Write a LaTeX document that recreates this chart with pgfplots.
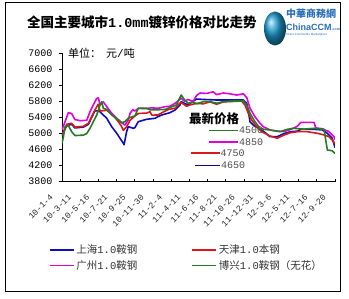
\documentclass[border=0pt]{standalone}
\usepackage{fontspec}
\setmainfont{Liberation Sans}
\newfontfamily\cjk{Noto Sans CJK SC}
\newfontfamily\mono{Liberation Mono}
\usepackage{pgfplots}
\pgfplotsset{compat=1.18}
\definecolor{sblue}{RGB}{15,15,185}
\definecolor{sred}{RGB}{215,25,25}
\definecolor{smag}{RGB}{225,0,225}
\definecolor{sgreen}{RGB}{35,125,35}
\definecolor{logoblue}{RGB}{40,110,185}
\begin{document}
\begin{tikzpicture}
\useasboundingbox (0pt,0pt) rectangle (349pt,299pt);
\draw[black,line width=0.6pt] (5.7pt,7.3pt) rectangle (340.7pt,296.3pt);
% title
\node[anchor=west,inner sep=0] at (27pt,277pt) {\fontsize{13.5}{15}\selectfont\cjk\bfseries 全国主要城市{\mono\bfseries 1.0mm}镀锌价格对比走势};
% logo
\shade[ball color=logoblue!70!cyan] (275pt,270.5pt) ellipse (11pt and 17pt);
\node[anchor=west,inner sep=0,text=logoblue] at (286pt,285pt) {\fontsize{10}{12}\selectfont\cjk\bfseries 中華商務網};
\node[anchor=west,inner sep=0,text=logoblue] at (286pt,272pt) {\fontsize{9}{10}\selectfont\bfseries ChinaCCM\fontsize{3.5}{4}\selectfont.com};
\node[anchor=west,inner sep=0,text=logoblue] at (286pt,264pt) {\fontsize{3}{4}\selectfont China Commodity Marketplace};
% unit
\node[anchor=west,inner sep=0] at (68pt,246pt) {\fontsize{11}{12}\selectfont\cjk 单位：\hspace{5pt}元{\mono /}吨};
\begin{axis}[
  at={(62pt,117.3pt)}, anchor=south west,
  scale only axis, width=273pt, height=128.4pt,
  xmin=0, xmax=15, ymin=3800, ymax=7000,
  axis x line*=bottom, axis y line*=left,
  axis line style={black,line width=0.6pt,-},
  xtick={0,...,15},
  xticklabels={10-1-4,10-3-11,10-5-16,10-7-21,10-9-25,10-11-30,11-2-4,11-4-11,11-6-16,11-8-21,11-10-26,11-12-31,12-3-6,12-5-11,12-7-16,12-9-20},
  ytick={3800,4200,...,7000},
  xtick align=inside, ytick align=outside,
  major tick length=3pt,
  tick style={black,line width=0.6pt},
  /pgf/number format/1000 sep={},
  /pgf/number format/assume math mode=true,
  yticklabel style={font=\fontsize{10}{12}\selectfont\mono, xshift=-3pt},
  xticklabel style={font=\fontsize{8.5}{10}\selectfont\mono, text=black!85, xshift=-8pt, yshift=-12pt, rotate=45, anchor=east},
  every axis plot/.append style={line width=1.6pt, line join=round},
  legend columns=2,
  legend cell align=left,
  legend image code/.code={\draw[#1] (0pt,0pt) -- (24pt,0pt);},
  legend style={at={(axis description cs:-0.06,-0.46)}, anchor=north west, draw=none, fill=none,
    font=\fontsize{10.5}{12}\selectfont\cjk, text=black!80, row sep=1pt,
    /tikz/every even column/.append style={column sep=52pt}},
]
\addplot[sblue] coordinates {
(0,4940) (0.26,5200) (0.53,5230) (0.71,5140) (1.17,5160) (1.45,5230) (1.63,5400) (1.81,5570) (1.99,5560) (2.09,5545) (2.27,5462) (2.46,5380) (2.73,5171) (3.01,5006) (3.19,4880) (3.37,4757) (3.41,4720) (3.55,5046) (3.64,5171) (3.92,5130) (4.01,5150) (4.19,5296) (4.65,5355) (5.11,5380) (5.27,5420) (5.48,5462) (5.93,5520) (6.21,5587) (6.48,5710) (6.55,5795) (6.92,5712) (7.03,5754) (7.4,5860) (7.76,5850) (8.5,5836) (9.96,5836) (10.15,5754) (10.24,5545) (10.33,5296) (10.51,5212) (10.79,5140) (11.1,5046) (11.43,4922) (11.83,4922) (12.2,5000) (12.57,5046) (12.93,5060) (13.12,5105) (13.85,5105) (14.3,5090) (14.58,5006) (14.85,4882) (15,4650)
};
\addlegendentry{上海{\mono 1.0}鞍钢}
\addplot[sred] coordinates {
(0,4964) (0.26,5230) (0.53,5256) (0.71,5160) (1.17,5180) (1.45,5256) (1.63,5420) (1.81,5587) (1.99,5730) (2.09,5560) (2.46,5580) (2.82,5450) (3.09,5300) (3.28,5170) (3.37,5080) (3.55,5170) (3.74,5330) (4.01,5440) (4.2,5500) (4.65,5510) (4.84,5545) (4.93,5460) (5.27,5462) (5.5,5520) (5.84,5600) (6.21,5630) (6.48,5760) (6.55,5770) (6.85,5680) (7.03,5712) (7.4,5754) (7.76,5740) (8.13,5790) (8.5,5730) (8.86,5790) (9.41,5800) (9.87,5810) (10.05,5712) (10.24,5505) (10.42,5338) (10.7,5171) (10.97,5046) (11.43,4940) (11.83,4882) (12.2,4964) (12.57,5023) (12.93,5046) (13.48,5046) (14.03,5006) (14.4,4964) (14.67,4922) (14.85,4840) (15,4750)
};
\addlegendentry{天津{\mono 1.0}本钢}
\addplot[smag] coordinates {
(0,5090) (0.17,5300) (0.35,5520) (0.53,5500) (0.71,5350) (1.0,5320) (1.36,5330) (1.54,5545) (1.72,5712) (1.9,5870) (2.0,5890) (2.09,5712) (2.27,5790) (2.46,5670) (2.73,5505) (3.01,5380) (3.28,5270) (3.46,5213) (3.64,5337) (3.74,5505) (3.9,5600) (4.0,5560) (4.2,5630) (4.6,5620) (4.9,5640) (5.3,5630) (5.66,5670) (5.93,5680) (6.21,5753) (6.55,5880) (6.74,5800) (6.92,5850) (7.2,5800) (7.4,5950) (7.58,6010) (7.95,6000) (8.3,6040) (8.5,5970) (8.86,6010) (9.23,5990) (9.6,5960) (9.96,5990) (10.15,5900) (10.33,5630) (10.6,5420) (10.88,5255) (11.06,5171) (11.43,5089) (11.83,5060) (12.2,5050) (12.57,5105) (12.93,5180) (13.12,5280) (13.85,5280) (13.94,5140) (14.3,5120) (14.67,5046) (14.95,4920) (15,4850)
};
\addlegendentry{广州{\mono 1.0}鞍钢}
\addplot[sgreen] coordinates {
(0,4757) (0.07,4900) (0.17,5171) (0.35,5200) (0.53,5046) (0.71,4950) (1.17,4960) (1.36,5000) (1.54,5131) (1.72,5296) (1.91,5462) (2.09,5712) (2.18,5794) (2.27,5629) (2.46,5600) (2.73,5462) (3.01,5370) (3.28,5270) (3.46,5296) (3.64,5380) (3.74,5400) (4.01,5440) (4.19,5629) (4.65,5630) (4.84,5590) (5.11,5590) (5.66,5600) (6.28,5712) (6.55,5960) (6.74,5836) (6.92,5754) (7.2,5780) (7.4,5740) (7.76,5794) (8.13,5794) (8.5,5754) (8.86,5794) (9.41,5810) (9.96,5810) (10.15,5712) (10.33,5505) (10.6,5296) (10.88,5131) (11.1,5105) (11.43,5089) (11.98,5046) (12.38,5105) (12.71,5131) (13.3,5110) (13.85,5131) (14.4,5105) (14.49,4840) (14.58,4590) (14.85,4570) (15,4500)
};
\addlegendentry{博兴{\mono 1.0}鞍钢（无花）}
\end{axis}
% latest price annotation
\node[anchor=west,inner sep=0] at (189pt,180pt) {\fontsize{12.5}{14}\selectfont\cjk\bfseries 最新价格};
\draw[sgreen,line width=1.6pt] (209pt,168.3pt) -- (238pt,168.3pt);
\node[anchor=west,inner sep=0,text=black!70] at (239pt,168.3pt) {\fontsize{10}{12}\selectfont\mono 4500};
\draw[smag,line width=1.6pt] (209pt,156.7pt) -- (238pt,156.7pt);
\node[anchor=west,inner sep=0,text=black!70] at (239pt,156.7pt) {\fontsize{10}{12}\selectfont\mono 4850};
\draw[sred,line width=1.6pt] (190.7pt,145.7pt) -- (220pt,145.7pt);
\node[anchor=west,inner sep=0,text=black!70] at (220.5pt,145.7pt) {\fontsize{10}{12}\selectfont\mono 4750};
\draw[sblue!70!black,line width=1.6pt] (195pt,133.3pt) -- (220pt,133.3pt);
\node[anchor=west,inner sep=0,text=black!70] at (221pt,133.3pt) {\fontsize{10}{12}\selectfont\mono 4650};
\end{tikzpicture}
\end{document}
